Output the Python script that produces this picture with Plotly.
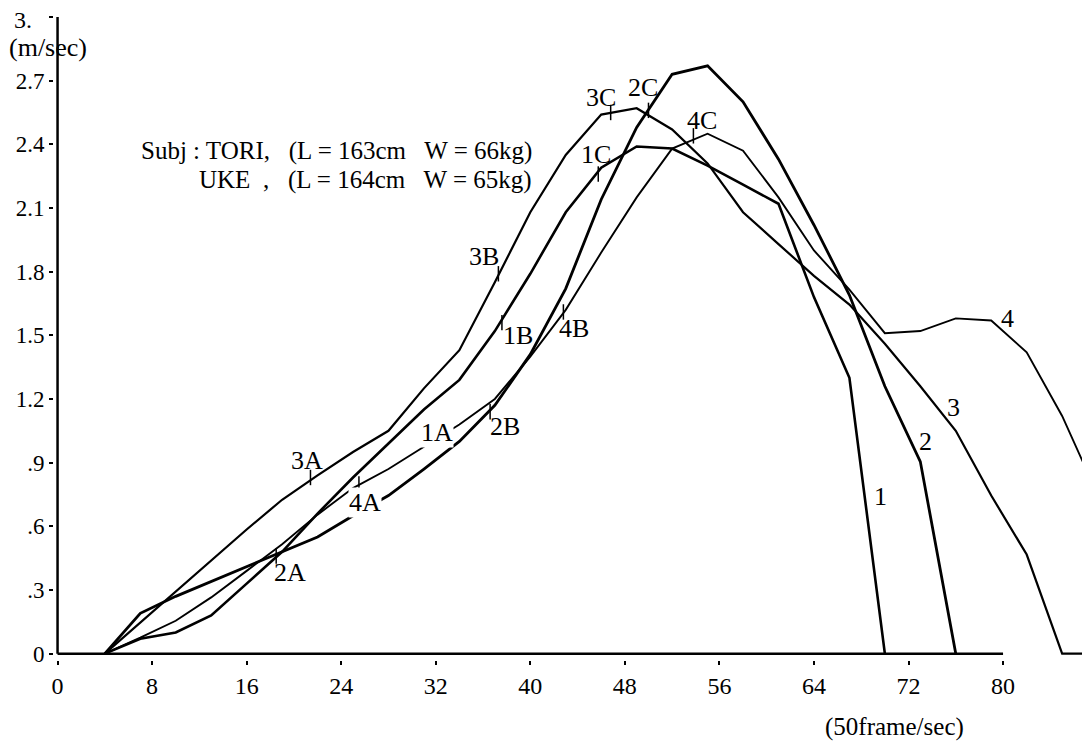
import plotly.graph_objects as go

# ---- data ----
frames_1 = [4, 7, 10, 13, 16, 19, 22, 25, 28, 31, 34, 37, 40, 43, 46, 49, 52, 55, 58, 61, 64, 67, 70]
speed_1 = [0, 0.07, 0.10, 0.18, 0.33, 0.48, 0.66, 0.83, 0.99, 1.15, 1.29, 1.52, 1.79, 2.08, 2.29,
           2.39, 2.38, 2.30, 2.21, 2.12, 1.68, 1.30, 0]

frames_2 = [4, 7, 10, 13, 16, 19, 22, 25, 28, 31, 34, 37, 40, 43, 46, 49, 52, 55, 58, 61, 64, 67, 70, 73, 76]
speed_2 = [0, 0.19, 0.27, 0.34, 0.41, 0.48, 0.55, 0.65, 0.745, 0.87, 1.00, 1.17, 1.41, 1.72, 2.14,
           2.48, 2.73, 2.77, 2.60, 2.33, 2.02, 1.69, 1.26, 0.905, 0]

frames_3 = [4, 7, 10, 13, 16, 19, 22, 25, 28, 31, 34, 37, 40, 43, 46, 49, 52, 55, 58, 61, 64, 67, 70,
            73, 76, 79, 82, 85, 88]
speed_3 = [0, 0.146, 0.29, 0.44, 0.585, 0.725, 0.84, 0.95, 1.05, 1.25, 1.43, 1.75, 2.08, 2.35, 2.54,
           2.57, 2.47, 2.31, 2.08, 1.93, 1.78, 1.645, 1.46, 1.26, 1.05, 0.745, 0.467, 0, 0]

frames_4 = [4, 7, 10, 13, 16, 19, 22, 25, 28, 31, 34, 37, 40, 43, 46, 49, 52, 55, 58, 61, 64, 67, 70,
            73, 76, 79, 82, 85, 88]
speed_4 = [0, 0.075, 0.155, 0.265, 0.39, 0.515, 0.655, 0.78, 0.87, 0.975, 1.08, 1.20, 1.40, 1.62, 1.89,
           2.15, 2.38, 2.45, 2.37, 2.15, 1.90, 1.715, 1.51, 1.52, 1.58, 1.57, 1.42, 1.12, 0.75]

# phase marks (A, B, C) on the curves
mark_x = [21.4, 25.5, 18.5, 37.6, 36.6, 37.3, 42.8, 45.75, 50.0, 46.8, 53.8]
mark_y = [0.83, 0.80, 0.46, 1.56, 1.14, 1.79, 1.61, 2.26, 2.56, 2.55, 2.44]

# labels
label_text = ["1A", "1B", "1C", "2A", "2B", "2C", "3A", "3B", "3C", "4A", "4B", "4C", "1", "2", "3", "4"]
label_x = [32.1, 39.0, 45.6, 19.7, 37.9, 49.5, 21.1, 36.1, 46.0, 26.0, 43.7, 54.5, 69.6, 73.4, 75.8, 80.4]
label_y = [1.04, 1.50, 2.35, 0.38, 1.07, 2.67, 0.91, 1.87, 2.62, 0.71, 1.53, 2.51, 0.74, 1.00, 1.16, 1.58]

x_ticks = [0, 8, 16, 24, 32, 40, 48, 56, 64, 72, 80]
y_ticks = [0, 0.3, 0.6, 0.9, 1.2, 1.5, 1.8, 2.1, 2.4, 2.7, 3.0]
y_ticktext = ["0", ".3", ".6", ".9", "1.2", "1.5", "1.8", "2.1", "2.4", "2.7", ""]

FONT = "Liberation Serif"

fig = go.Figure()
for fx, sp, w in [(frames_1, speed_1, 2.6), (frames_2, speed_2, 2.8),
                  (frames_3, speed_3, 2.2), (frames_4, speed_4, 1.9)]:
    fig.add_trace(go.Scatter(x=fx, y=sp, mode="lines",
                             line=dict(color="black", width=w), showlegend=False,
                             hoverinfo="skip"))

fig.add_trace(go.Scatter(x=mark_x, y=mark_y, mode="markers", showlegend=False,
                         marker=dict(symbol="line-ns", size=11,
                                     line=dict(color="black", width=1.5)),
                         hoverinfo="skip"))

# axis lines (x axis ends at 80)
fig.add_shape(type="line", xref="x", yref="y", x0=0, y0=0, x1=80, y1=0,
              line=dict(color="black", width=2.5))
fig.add_shape(type="line", xref="x", yref="y", x0=0, y0=0, x1=0, y1=3.0,
              line=dict(color="black", width=2.5))

for t, x, y in zip(label_text, label_x, label_y):
    fig.add_annotation(x=x, y=y, text=t, showarrow=False, xref="x", yref="y",
                       font=dict(family=FONT, size=26, color="black"),
                       bgcolor="white" if t in ("1A", "4A") else None,
                       borderpad=0)

fig.add_annotation(x=-0.03, y=0.995, text="3.", showarrow=False, xref="paper", yref="paper",
                   xanchor="center", yanchor="middle",
                   font=dict(family=FONT, size=24, color="black"))
fig.add_annotation(x=-0.006, y=0.952, text="(m/sec)", showarrow=False, xref="paper", yref="paper",
                   xanchor="center", yanchor="middle",
                   font=dict(family=FONT, size=26, color="black"))
fig.add_annotation(x=0.818, y=-0.1036, text="(50frame/sec)", showarrow=False,
                   xref="paper", yref="paper", xanchor="center", yanchor="middle",
                   font=dict(family=FONT, size=25, color="black"))

fig.add_annotation(x=40.3, y=2.37, text="Subj : TORI,   (L = 163cm   W = 66kg)", showarrow=False,
                   xref="x", yref="y", xanchor="right",
                   font=dict(family=FONT, size=25, color="black"))
fig.add_annotation(x=40.3, y=2.23, text="UKE  ,   (L = 164cm   W = 65kg)", showarrow=False,
                   xref="x", yref="y", xanchor="right",
                   font=dict(family=FONT, size=25, color="black"))

fig.update_layout(
    width=1082, height=742,
    margin=dict(l=53.5, r=0, t=17.4, b=81.6),
    paper_bgcolor="white", plot_bgcolor="white",
    font=dict(family=FONT, size=24, color="black"),
    xaxis=dict(range=[-0.3, 86.68], tickvals=x_ticks, ticktext=[str(v) for v in x_ticks],
               showgrid=False, zeroline=False, showline=False,
               ticks="outside", ticklen=4, tickwidth=2, tickcolor="black",
               ticklabelstandoff=0,
               tickfont=dict(family=FONT, size=24, color="black")),
    yaxis=dict(range=[-0.03, 3.0], tickvals=y_ticks, ticktext=y_ticktext,
               showgrid=False, zeroline=False, showline=False,
               ticks="outside", ticklen=4, tickwidth=2, tickcolor="black",
               tickfont=dict(family=FONT, size=23, color="black")),
)

fig.write_html("out.html")
